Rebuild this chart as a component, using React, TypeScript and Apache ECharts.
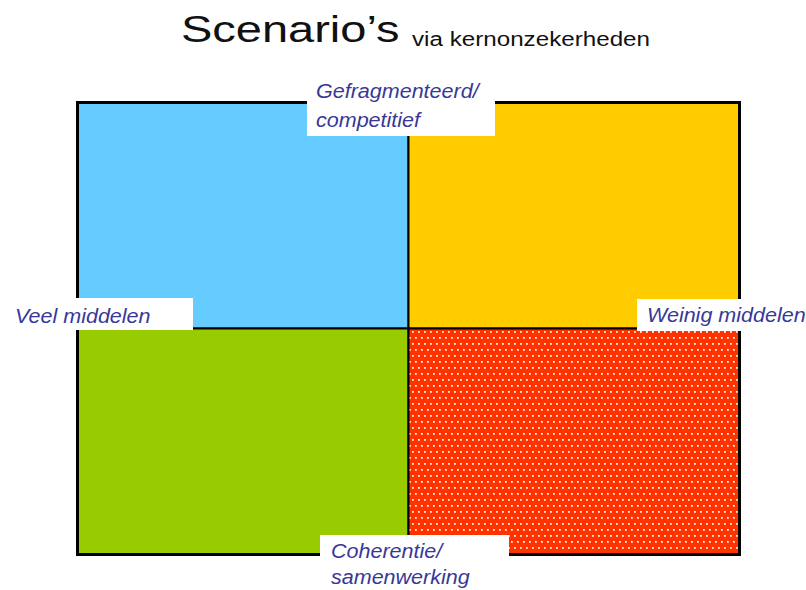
import React, { useEffect, useRef } from 'react';
import * as echarts from 'echarts';

// Quadrant diagram data
const quadrantNames = ['Veel middelen / gefragmenteerd', 'Weinig middelen / gefragmenteerd', 'Veel middelen / coherent', 'Weinig middelen / coherent'];
const quadrantCol = [0, 1, 0, 1];
const quadrantRow = [1, 1, 0, 0];
const labelTop = ['Gefragmenteerd/', 'competitief'];
const labelBottom = ['Coherentie/', 'samenwerking'];
const labelLeft = 'Veel middelen';
const labelRight = 'Weinig middelen';
const titleMain = 'Scenario\u2019s';
const titleSub = 'via kernonzekerheden';

const QUAD_FILLS = ['#66CCFF', '#FFCC00', '#99CC00', null];
const LABEL_COLOR = '#383899';
const LABEL_FONT = 'italic 21px "Liberation Sans", Arial, sans-serif';

function makeDotTile(): HTMLCanvasElement {
  const c = document.createElement('canvas');
  c.width = 12;
  c.height = 12;
  const ctx = c.getContext('2d')!;
  ctx.fillStyle = '#FF3300';
  ctx.fillRect(0, 0, 12, 12);
  ctx.fillStyle = 'rgba(255,240,232,1)';
  const dots = [[1, 1], [7, 1], [4, 7], [10, 7]];
  dots.forEach(([x, y]) => ctx.fillRect(x, y, 1.8, 1.8));
  return c;
}

export default function App() {
  const ref = useRef<HTMLDivElement>(null);
  useEffect(() => {
    if (!ref.current) return;
    const chart = echarts.init(ref.current, null, { renderer: 'svg' });
    const tile = makeDotTile();
    const data = quadrantNames.map((n, i) => ({ name: n, value: [quadrantCol[i], quadrantRow[i]] }));

    const labelText = (text: string, x: number, y: number) => ({
      type: 'text', x, y, z: 20, scaleX: 1.025,
      style: { text, font: LABEL_FONT, fill: LABEL_COLOR, verticalAlign: 'middle', align: 'left' },
    });
    const box = (x: number, y: number, w: number, h: number) => ({
      type: 'rect', z: 19, shape: { x, y, width: w, height: h }, style: { fill: '#FFFFFF' },
    });

    chart.setOption({
      animation: false,
      backgroundColor: '#FFFFFF',
      grid: { left: 78, top: 103, width: 661, height: 451, show: true, borderWidth: 4, borderColor: '#000', backgroundColor: 'transparent' },
      xAxis: { type: 'value', min: 0, max: 2, show: false },
      yAxis: { type: 'value', min: 0, max: 2, show: false },
      series: [{
        type: 'custom',
        data,
        renderItem: (params: any, api: any) => {
          const c = api.value(0);
          const r = api.value(1);
          const p0 = api.coord([c, r + 1]);
          const p1 = api.coord([c + 1, r]);
          const f = QUAD_FILLS[params.dataIndex];
          return {
            type: 'rect',
            shape: { x: p0[0], y: p0[1], width: p1[0] - p0[0], height: p1[1] - p0[1] },
            style: {
              fill: f ? f : { image: tile, repeat: 'repeat' },
              stroke: '#000',
              lineWidth: 2,
            },
          };
        },
      }],
      graphic: [
        {
          type: 'text', x: 181, y: 29, scaleX: 1.27,
          style: { text: titleMain, font: '37px "Liberation Sans", Arial, sans-serif', fill: '#111', verticalAlign: 'middle', align: 'left' },
        },
        {
          type: 'text', x: 412, y: 39, scaleX: 1.21,
          style: { text: titleSub, font: '20px "Liberation Sans", Arial, sans-serif', fill: '#111', verticalAlign: 'middle', align: 'left' },
        },
        box(307, 82, 188, 54),
        labelText(labelTop[0], 316, 91),
        labelText(labelTop[1], 316, 120),
        box(10, 298, 183, 32),
        labelText(labelLeft, 15, 316),
        box(637, 299, 169, 32),
        labelText(labelRight, 647, 315),
        box(320, 535, 189, 55),
        labelText(labelBottom[0], 331, 551),
        labelText(labelBottom[1], 331, 577),
      ],
    });
    return () => chart.dispose();
  }, []);
  return <div ref={ref} style={{ width: 806, height: 590, position: 'absolute', left: 0, top: 0 }} />;
}
